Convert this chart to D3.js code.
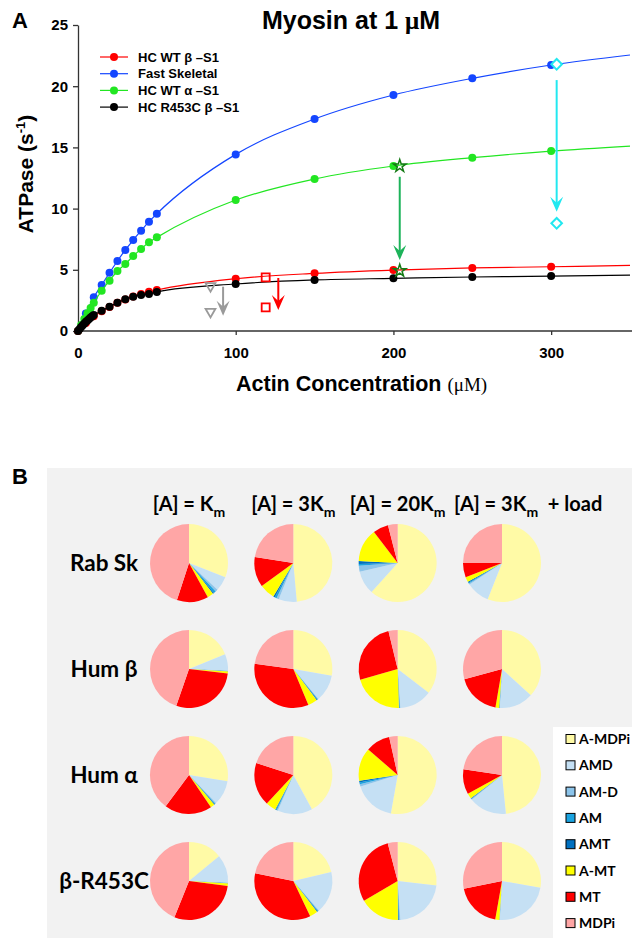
<!DOCTYPE html>
<html>
<head>
<meta charset="utf-8">
<script src="https://cdn.jsdelivr.net/npm/d3@7"></script>
<style>
body { margin: 0; background: #fff; }
svg text { font-family: "Liberation Sans", Arial, sans-serif; }
.cal { font-family: Lato, "Open Sans", sans-serif; font-weight: bold; }
</style>
</head>
<body>
<svg id="fig"></svg>
<script>
// ---- panel A data ----
const seriesNames = ['HC WT β –S1', 'Fast Skeletal', 'HC WT α –S1', 'HC R453C β –S1']
const seriesColors = ['#ff0000', '#1446ff', '#22e622', '#000000']

const redX = [0, 5, 10, 15, 20, 25, 30, 35, 40, 45, 50, 100, 150, 200, 250, 300]
const redY = [0, 0.65, 1.2, 1.62, 1.97, 2.3, 2.58, 2.82, 3.02, 3.2, 3.35, 4.27, 4.71, 4.98, 5.15, 5.25]
const blueX = [0, 5, 10, 15, 20, 25, 30, 35, 40, 45, 50, 100, 150, 200, 250, 300]
const blueY = [0, 1.42, 2.75, 3.76, 4.76, 5.72, 6.62, 7.43, 8.19, 8.93, 9.58, 14.43, 17.32, 19.28, 20.64, 21.73]
const greenX = [0, 2, 4, 6, 8, 10, 15, 20, 25, 30, 35, 40, 45, 50, 100, 150, 200, 250, 300]
const greenY = [0, 0.5, 0.98, 1.45, 1.87, 2.3, 3.29, 4.11, 4.9, 5.47, 6.13, 6.7, 7.25, 7.65, 10.7, 12.42, 13.48, 14.16, 14.7]
const blackX = [0, 1, 2, 3, 4, 5, 6, 7, 8, 9, 10, 15, 20, 25, 30, 35, 40, 45, 50, 100, 150, 200, 250, 300]
const blackY = [0, 0.17, 0.32, 0.47, 0.62, 0.75, 0.86, 0.98, 1.1, 1.2, 1.3, 1.65, 1.99, 2.31, 2.59, 2.8, 2.94, 3.02, 3.19, 3.84, 4.17, 4.3, 4.41, 4.49]
// where each fitted curve leaves the plot at 350 uM
const fitEndY = [5.36, 22.55, 15.11, 4.57]

const triX = [84, 84], triY = [3.68, 1.58]
const sqX = [119, 119], sqY = [4.38, 1.93]
const starX = [204, 204], starY = [13.48, 4.93]
const diaX = [303.5, 303.5], diaY = [21.79, 8.8]

const arrowX = [92, 127, 204, 303.5]
const arrowFrom = [3.62, 4.33, 12.6, 20.5]
const arrowTo = [1.25, 1.72, 5.8, 9.75]
const arrowColors = ['#9a9a9a', '#ff0000', '#1db35a', '#22e8f0']

const yTicks = [0, 5, 10, 15, 20, 25]
const xTicks = [0, 100, 200, 300]

// ---- panel B data (% of myosin heads in each state) ----
const states = ['A-MDPi', 'AMD', 'AM-D', 'AM', 'AMT', 'A-MT', 'MT', 'MDPi']
const stateColors = ['#fffaa6', '#c5e0f4', '#8cc4ea', '#1aa3e0', '#0070c0', '#ffff00', '#ff0000', '#ffa6a6']
const myosins = ['Rab Sk', 'Hum β', 'Hum α', 'β-R453C']
const conditions = ['Km', '3Km', '20Km', '3Km+load']

const rabSk = [
    [31, 6, 1, 1, 0.5, 2.5, 13, 45],
    [48.6, 7.5, 1, 0.8, 0.7, 6.4, 12.5, 22.5],
    [61.7, 9.7, 2.5, 0.7, 1.2, 13.8, 6.4, 4],
    [56, 9.7, 0.5, 0.4, 0.4, 2.1, 5.9, 25]
]
const humBeta = [
    [18.8, 6.9, 0.1, 0.1, 0.1, 0.8, 28.5, 44.7],
    [27.8, 11.1, 0.3, 0.3, 0.3, 3.9, 33.5, 22.8],
    [35.4, 13.5, 0.2, 0.2, 0.2, 21.1, 25.6, 3.8],
    [36.8, 14.1, 0.1, 0.1, 0.1, 1.5, 18.1, 29.2]
]
const humAlpha = [
    [27.6, 10.2, 0.4, 0.3, 0.3, 1.7, 19.7, 39.8],
    [42.1, 14.4, 0.5, 0.4, 0.3, 4.2, 18.1, 20],
    [52.8, 17.4, 1, 0.7, 0.7, 13.8, 10.1, 3.5],
    [48.4, 15.7, 0.3, 0.2, 0.2, 2.2, 10.4, 22.6]
]
const r453c = [
    [14, 11.7, 0.1, 0.1, 0.1, 1, 29.1, 43.9],
    [21.3, 17.3, 0.4, 0.3, 0.3, 3.3, 35.3, 21.8],
    [26.8, 22.1, 0.4, 0.3, 0.3, 16.7, 29.3, 4.1],
    [27.8, 23.1, 0.1, 0.05, 0.05, 1.7, 19, 28.2]
]
const pieRows = [rabSk, humBeta, humAlpha, r453c]

const W = 632, H = 938
const svg = d3.select('#fig').attr('width', W).attr('height', H)

// ================= panel A =================
const x = d3.scaleLinear().domain([0, 350]).range([78, 630])
const y = d3.scaleLinear().domain([0, 25]).range([331, 25])

const yAx = svg.append('g')
    .attr('transform', `translate(${x(0)},0)`)
    .call(d3.axisLeft(y).tickValues(yTicks).tickSize(5).tickSizeOuter(0).tickPadding(5))
const xAx = svg.append('g')
    .attr('transform', `translate(0,${y(0)})`)
    .call(d3.axisBottom(x).tickValues(xTicks).tickSize(4).tickSizeOuter(0).tickPadding(12))
xAx.select('.domain').attr('d', `M${x(0)},0H${W}`)

for (const ax of [xAx, yAx]) {
    ax.selectAll('path, line').attr('stroke', '#333').attr('stroke-width', 1.3)
    ax.selectAll('text').attr('font-size', 15).attr('font-weight', 'bold').attr('fill', '#000')
        .attr('font-family', '"Liberation Sans", Arial, sans-serif')
}

const series = [
    { xs: redX, ys: redY, i: 0 },
    { xs: blueX, ys: blueY, i: 1 },
    { xs: greenX, ys: greenY, i: 2 },
    { xs: blackX, ys: blackY, i: 3 }
]
const drawOrder = [1, 2, 0, 3]

const line = d3.line().x(d => x(d[0])).y(d => y(d[1])).curve(d3.curveMonotoneX)

drawOrder.forEach(k => {
    const s = series[k]
    const pts = s.xs.map((v, j) => [v, s.ys[j]])
    svg.append('path')
        .datum(pts.concat([[350, fitEndY[s.i]]]))
        .attr('d', line)
        .attr('fill', 'none')
        .attr('stroke', seriesColors[s.i])
        .attr('stroke-width', 1.2)
    svg.append('g')
        .selectAll('circle')
        .data(pts)
        .enter()
        .append('circle')
        .attr('cx', d => x(d[0]))
        .attr('cy', d => y(d[1]))
        .attr('r', 4)
        .attr('fill', seriesColors[s.i])
})

// arrows
arrowX.forEach((ax, i) => {
    const xp = x(ax), y1 = y(arrowFrom[i]), y2 = y(arrowTo[i])
    svg.append('line')
        .attr('x1', xp).attr('x2', xp)
        .attr('y1', y1).attr('y2', y2 - 6)
        .attr('stroke', arrowColors[i])
        .attr('stroke-width', 2)
    svg.append('path')
        .attr('d', `M${xp},${y2}L${xp - 6.5},${y2 - 15}L${xp},${y2 - 9}L${xp + 6.5},${y2 - 15}Z`)
        .attr('fill', arrowColors[i])
})

// markers
const markers = [
    { xs: triX, ys: triY, type: d3.symbolTriangle, size: 42, color: '#9a9a9a', rot: 180, fill: 'none', sw: 1.8 },
    { xs: sqX, ys: sqY, type: d3.symbolSquare, size: 64, color: '#ff0000', rot: 0, fill: 'none', sw: 1.8 },
    { xs: starX, ys: starY, type: d3.symbolStar, size: 48, color: '#157a15', rot: 0, fill: 'none', sw: 1.5 },
    { xs: diaX, ys: diaY, type: d3.symbolSquare, size: 56, color: '#22e8f0', rot: 45, fill: '#fff', sw: 2 }
]
markers.forEach(m => {
    m.xs.forEach((v, j) => {
        svg.append('path')
            .attr('d', d3.symbol().type(m.type).size(m.size)())
            .attr('transform', `translate(${x(v)},${y(m.ys[j])}) rotate(${m.rot})`)
            .attr('fill', m.fill)
            .attr('stroke', m.color)
            .attr('stroke-width', m.sw)
    })
})

// legend A
const legA = svg.append('g').attr('transform', 'translate(100,57)')
const legRows = legA.selectAll('g')
    .data(seriesNames)
    .enter()
    .append('g')
    .attr('transform', (d, i) => `translate(0,${i * 16.7})`)
legRows.append('line').attr('x1', 0).attr('x2', 28)
    .attr('stroke', (d, i) => seriesColors[i]).attr('stroke-width', 1.2)
legRows.append('circle').attr('cx', 14).attr('r', 4).attr('fill', (d, i) => seriesColors[i])
legRows.append('text').attr('x', 38).attr('y', 4.5)
    .attr('font-size', 13).attr('font-weight', 'bold')
    .text(d => d)

// titles
svg.append('text').attr('x', 12).attr('y', 28).attr('font-size', 22).attr('font-weight', 'bold').text('A')
const title = svg.append('text').attr('x', 351).attr('y', 29).attr('text-anchor', 'middle')
    .attr('font-size', 25).attr('font-weight', 'bold')
title.append('tspan').text('Myosin at 1 ')
title.append('tspan').attr('font-family', '"Liberation Serif", serif').text('μ')
title.append('tspan').text('M')

const ylab = svg.append('text')
    .attr('transform', 'translate(33,174) rotate(-90)')
    .attr('text-anchor', 'middle')
    .attr('font-size', 21).attr('font-weight', 'bold')
ylab.append('tspan').text('ATPase (s')
ylab.append('tspan').attr('font-size', 13).attr('dy', -8).text('-1')
ylab.append('tspan').attr('dy', 8).text(')')

const xlab = svg.append('text').attr('x', 236).attr('y', 391)
    .attr('font-size', 21.5).attr('font-weight', 'bold')
xlab.append('tspan').text('Actin Concentration ')
xlab.append('tspan').attr('font-family', '"Liberation Serif", serif').attr('font-weight', 'normal')
    .attr('font-size', 19).text('(μM)')

// ================= panel B =================
svg.append('rect').attr('x', 47).attr('y', 468).attr('width', W - 47).attr('height', H - 468).attr('fill', '#f2f2f2')
svg.append('text').attr('x', 12).attr('y', 484).attr('font-size', 22).attr('font-weight', 'bold').text('B')

const colX = d3.scalePoint().domain(conditions).range([189, 502])
const rowY = d3.scalePoint().domain(myosins).range([563, 881])
const arc = d3.arc().innerRadius(0).outerRadius(39)
const pie = d3.pie().sort(null).value(d => d)

pieRows.forEach((row, r) => {
    row.forEach((vals, c) => {
        svg.append('g')
            .attr('transform', `translate(${colX(conditions[c])},${rowY(myosins[r])})`)
            .selectAll('path')
            .data(pie(vals))
            .enter()
            .append('path')
            .attr('d', arc)
            .attr('fill', (d, i) => stateColors[i])
    })
})

svg.selectAll('.rowlab')
    .data(myosins)
    .enter()
    .append('text')
    .attr('class', 'cal')
    .attr('x', 104)
    .attr('y', d => rowY(d) + 8)
    .attr('text-anchor', 'middle')
    .attr('font-size', 22.5)
    .text(d => d)

const headFactor = ['', '3', '20', '3']
conditions.forEach((c, i) => {
    const last = i === conditions.length - 1
    const t = svg.append('text')
        .attr('class', 'cal')
        .attr('x', last ? colX(c) - 48 : colX(c))
        .attr('y', 511)
        .attr('text-anchor', last ? 'start' : 'middle')
        .attr('font-size', 20)
    t.append('tspan').text(`[A] = ${headFactor[i]}K`)
    t.append('tspan').attr('font-size', 14).attr('dy', 6).text('m')
    if (last) t.append('tspan').attr('dy', -6).text('\u00a0\u00a0+ load')
})

// legend B
svg.append('rect').attr('x', 553).attr('y', 727).attr('width', W - 553).attr('height', H - 727).attr('fill', '#fff')
const legB = svg.append('g').selectAll('g')
    .data(states)
    .enter()
    .append('g')
    .attr('transform', (d, i) => `translate(566,${739 + i * 26.3})`)
legB.append('rect').attr('x', 0).attr('y', -4.5).attr('width', 9).attr('height', 9)
    .attr('fill', (d, i) => stateColors[i]).attr('stroke', '#000').attr('stroke-width', 1)
legB.append('text').attr('class', 'cal').attr('x', 13).attr('y', 5)
    .attr('font-size', 14).text(d => d)
</script>
</body>
</html>
